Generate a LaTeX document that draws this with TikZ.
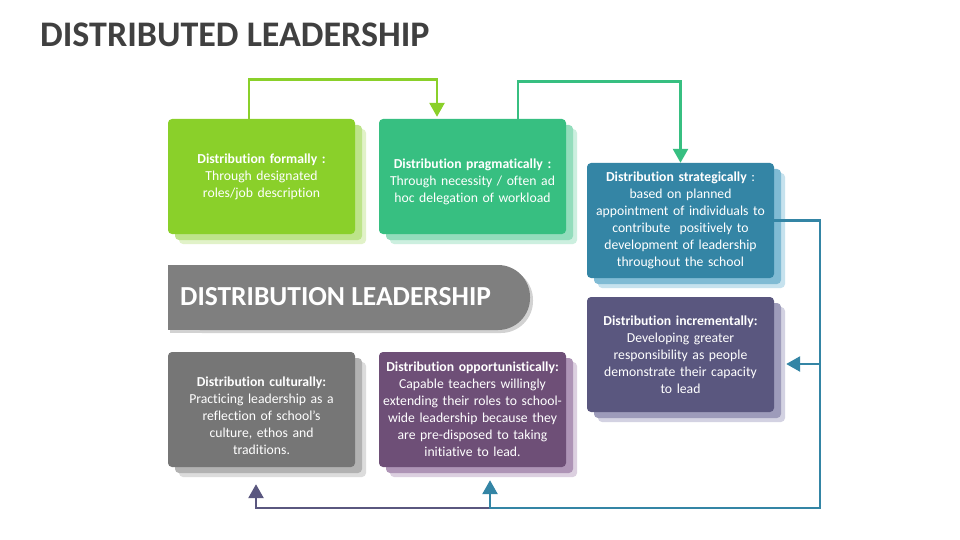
\documentclass[tikz,border=0pt]{standalone}
\usepackage{fontspec}
\setmainfont{Carlito}[Ligatures=NoCommon]
\usetikzlibrary{arrows.meta,calc}
\definecolor{ctitle}{HTML}{404040}
\definecolor{clime}{HTML}{8AD02A}
\definecolor{climes}{HTML}{BDE48A}
\definecolor{climel}{HTML}{E1F2C8}
\definecolor{cgreen}{HTML}{37BF81}
\definecolor{cgreens}{HTML}{93DDBC}
\definecolor{cgreenl}{HTML}{CCEFDF}
\definecolor{cblue}{HTML}{3485A5}
\definecolor{cblues}{HTML}{80BBD4}
\definecolor{cbluel}{HTML}{C6E2EE}
\definecolor{cslate}{HTML}{5A577F}
\definecolor{cslates}{HTML}{9D9BBA}
\definecolor{cslatel}{HTML}{D3D2E2}
\definecolor{cgray}{HTML}{767676}
\definecolor{cgrays}{HTML}{B2B2B2}
\definecolor{cgrayl}{HTML}{DCDCDC}
\definecolor{cplum}{HTML}{6E4F77}
\definecolor{cplums}{HTML}{AE94B6}
\definecolor{cpluml}{HTML}{DCD0E0}
\definecolor{cbanner}{HTML}{7F7F7F}
\begin{document}
\begin{tikzpicture}[x=1pt,y=-1pt,
  card/.style={rounded corners=4pt, minimum width=187pt, minimum height=115pt,
    text=white, align=center, font=\fontsize{13.7}{17}\selectfont,
    inner sep=0pt, text width=184pt},
  shade/.style={rounded corners=4pt, minimum width=187pt, minimum height=115pt, inner sep=0pt},
  conn/.style={line width=2.6pt, -{Triangle[width=15pt,length=14pt]}}]
\useasboundingbox (0,0) rectangle (960,540);
\fill[white] (0,0) rectangle (960,540);

% title
\node[anchor=west, inner sep=0pt, text=ctitle, font=\bfseries\fontsize{36}{40}\selectfont] (title) at (40,34.5) {DISTRIBUTED LEADERSHIP};

% shadows
\foreach \cx/\cy/\cs/\cl in {261.5/176.5/climes/climel, 472.5/176.5/cgreens/cgreenl, 680.5/220.5/cblues/cbluel, 680.5/354.5/cslates/cslatel, 261.5/409.5/cgrays/cgrayl, 472.5/409.5/cplums/cpluml}{
  \node[shade, fill=\cl] at (\cx+11,\cy+10) {};
  \node[shade, fill=\cs] at (\cx+7,\cy+6) {};
}

% cards
\node[card, fill=clime] (f1) at (261.5,176.5) {\textbf{Distribution formally :}\\Through designated\\roles/job description};
\node[card, fill=cgreen] (f2) at (472.5,176.5) {\rule{0pt}{19.5pt}\textbf{Distribution pragmatically :}\\Through necessity / often ad\\hoc delegation of workload};
\node[card, fill=cblue] (f3) at (680.5,220.5) {\textbf{Distribution strategically} :\\based on planned\\appointment of individuals to\\contribute~ positively to\\development of leadership\\throughout the school};
\node[card, fill=cslate] (f4) at (680.5,354.5) {\textbf{Distribution incrementally:}\\Developing greater\\responsibility as people\\demonstrate their capacity\\to lead};
\node[card, fill=cgray] (f5) at (261.5,409.5) {\rule{0pt}{21.5pt}\textbf{Distribution culturally:}\\Practicing leadership as a\\reflection of school’s\\culture, ethos and\\traditions.};
\node[card, fill=cplum] (f6) at (472.5,409.5) {\textbf{Distribution opportunistically:}\\Capable teachers willingly\\extending their roles to school-\\wide leadership because they\\are pre-disposed to taking\\initiative to lead.};

% banner
\fill[gray!35, rounded corners=32pt] (170,268) rectangle (533,333);
\fill[gray!35] (170,268) rectangle (400,333);
\fill[cbanner, rounded corners=32pt] (168,265) rectangle (530,330);
\fill[cbanner] (168,265) rectangle (400,330);
\node[anchor=west, inner sep=0pt, text=white, font=\bfseries\fontsize{27.5}{30}\selectfont] (banner) at (180,297) {DISTRIBUTION LEADERSHIP};

% connectors
\coordinate (br) at (820,508);
\coordinate (bj) at (490,508);
\coordinate (bm) at (820,364);
\draw[conn, clime] ([xshift=-12.5pt]f1.north) -- ++(0,-39) -| ([xshift=-35.5pt,yshift=2pt]f2.north);
\draw[conn, cgreen] ([xshift=45.5pt]f2.north) -- ++(0,-37) -| (f3.north);
\draw[conn, cslate] (bj) -| ([xshift=-5.5pt,yshift=-17pt]f5.south);
\draw[conn, cblue] (f3.east) -| (br) -| ([xshift=17.5pt,yshift=-13pt]f6.south);
\draw[conn, cblue] (bm) -- ([xshift=12pt,yshift=-9.5pt]f4.east);
\end{tikzpicture}
\end{document}
